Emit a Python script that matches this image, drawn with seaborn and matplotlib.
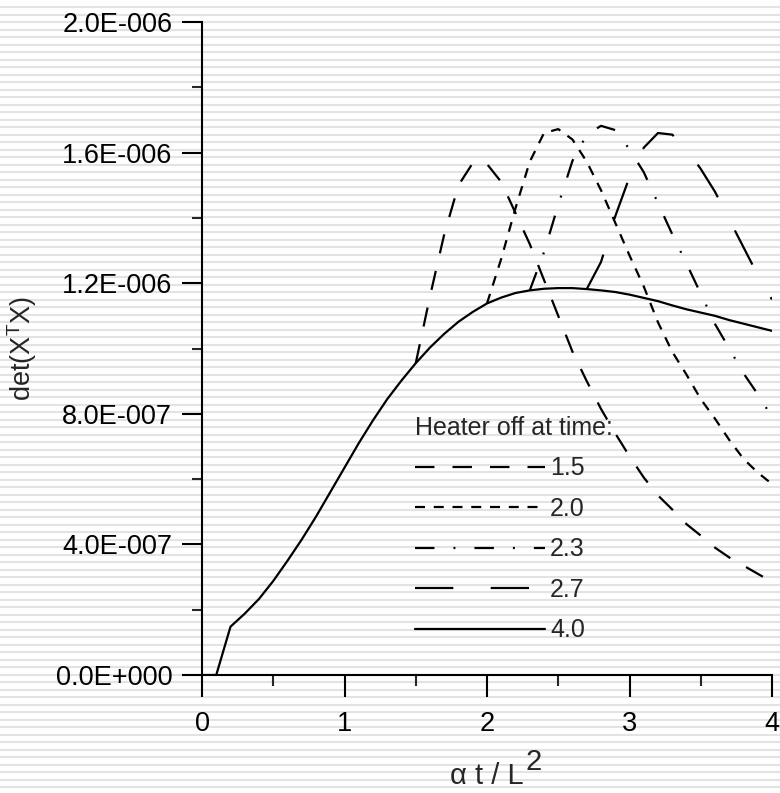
import numpy as np
import pandas as pd
import seaborn as sns
import matplotlib.pyplot as plt
from matplotlib.ticker import MultipleLocator, FuncFormatter

# time (alpha t / L^2) at which the heater is switched off
off_times = ['1.5', '2.0', '2.3', '2.7', '4.0']

# sampling grid, every 0.1
t_grid = np.round(np.arange(0, 4.01, 0.1), 1)

# det(X^T X), units of 1e-7
det_40 = [0.0, 0.0, 1.48, 1.88, 2.33, 2.88, 3.5, 4.15, 4.85, 5.6, 6.35,
          7.1, 7.8, 8.45, 9.02, 9.55, 10.03, 10.45, 10.82, 11.12, 11.38,
          11.56, 11.7, 11.78, 11.83, 11.85, 11.85, 11.82, 11.78, 11.73, 11.65,
          11.55, 11.45, 11.32, 11.2, 11.1, 11.0, 10.87, 10.76, 10.65, 10.54]
det_15 = [9.55, 11.6, 13.5, 15.0, 15.68, 15.65, 15.1, 14.15, 13.2, 12.1, 11.0,
          9.9, 9.0, 8.15, 7.4, 6.7, 6.05, 5.5, 5.07, 4.62, 4.27,
          3.9, 3.6, 3.35, 3.1, 2.85]
det_20 = [11.38, 12.75, 14.3, 15.72, 16.6, 16.72, 16.4, 15.72, 14.85, 13.85, 12.85,
          11.9, 10.8, 9.9, 9.2, 8.45, 7.85, 7.2, 6.62, 6.2, 5.85]
det_23 = [11.78, 12.95, 14.4, 15.75, 16.55, 16.82, 16.69, 16.1, 15.4, 14.45, 13.5,
          12.6, 11.68, 10.75, 10.0, 9.24, 8.6, 7.9]
det_27 = [11.82, 12.65, 14.05, 15.25, 16.15, 16.6, 16.55, 16.1, 15.5, 14.8, 13.95,
          13.1, 12.25, 11.5]

series = {'1.5': det_15, '2.0': det_20, '2.3': det_23, '2.7': det_27, '4.0': det_40}
frames = []
for key, vals in series.items():
    tt = t_grid[len(t_grid) - len(vals):]
    frames.append(pd.DataFrame({'t': tt, 'det': np.array(vals) * 1e-7, 'off': key}))
df = pd.concat(frames, ignore_index=True)

sns.set_style('white')
plt.rcParams['font.family'] = ['Liberation Sans', 'DejaVu Sans']
plt.rcParams['mathtext.fontset'] = 'custom'
plt.rcParams['mathtext.rm'] = 'Liberation Sans'
plt.rcParams['mathtext.it'] = 'Liberation Sans'
plt.rcParams['lines.scale_dashes'] = False

fig = plt.figure(figsize=(7.8, 7.93), dpi=100)
fig.patch.set_facecolor('white')

# striped background
bg = fig.add_axes([0, 0, 1, 1], zorder=-1)
bg.set_xlim(0, 1)
bg.set_ylim(793, 0)
bg.hlines(np.arange(7, 793, 7.5), 0, 1, color='#e3e3e3', lw=1.5)
bg.axis('off')

ax = fig.add_axes([202 / 780, 118 / 793, 570 / 780, 653 / 793])
ax.set_facecolor('none')

dash_map = {'1.5': (14, 13), '2.0': (7.2, 6.3), '2.3': (14, 13.7, 1.4, 13.7),
            '2.7': (27.6, 26.9), '4.0': ''}
sns.lineplot(data=df, x='t', y='det', style='off', style_order=off_times,
             dashes=dash_map, color='black', linewidth=1.6, estimator=None,
             ax=ax, legend='full')

ax.set_xlim(0, 4)
ax.set_ylim(0, 2e-6)
ax.xaxis.set_major_locator(MultipleLocator(1))
ax.xaxis.set_minor_locator(MultipleLocator(0.5))
ax.yaxis.set_major_locator(MultipleLocator(0.4e-6))
ax.yaxis.set_minor_locator(MultipleLocator(0.2e-6))


def sci_fmt(v, pos):
    if abs(v) < 1e-20:
        return '0.0E+000'
    e = int(np.floor(np.log10(abs(v))))
    m = v / 10 ** e
    return f"{m:.1f}E{'-' if e < 0 else '+'}{abs(e):03d}"


ax.yaxis.set_major_formatter(FuncFormatter(sci_fmt))

for s in ['top', 'right']:
    ax.spines[s].set_visible(False)
for s in ['left', 'bottom']:
    ax.spines[s].set_linewidth(1.5)
    ax.spines[s].set_color('black')

ax.tick_params(axis='y', which='major', direction='out', length=14.4, width=1.5,
               pad=7, labelsize=19.5, colors='black', left=True)
ax.tick_params(axis='y', which='minor', direction='out', length=7.2, width=1.5, left=True)
ax.tick_params(axis='x', which='major', direction='out', length=16, width=1.5,
               pad=10, labelsize=19.5, colors='black', bottom=True)
ax.tick_params(axis='x', which='minor', direction='out', length=8, width=1.5, bottom=True)

ax.set_ylabel(r'det(X$^{\mathregular{T}}$X)', fontsize=19.5, labelpad=12)
xl = ax.set_xlabel('\u03b1 t / L', fontsize=21, labelpad=18)
ax.annotate('2', xy=(1, 0.5), xycoords=xl, xytext=(1, 0), textcoords='offset points',
            fontsize=21, va='bottom', ha='left')

handles, labels = ax.get_legend_handles_labels()
leg = ax.legend(handles, labels, title='Heater off at time:', loc='upper left',
                bbox_to_anchor=(0.374, 0.397), frameon=False, fontsize=18,
                title_fontsize=18, handlelength=5.2, handletextpad=0.2,
                labelspacing=0.66, borderpad=0, borderaxespad=0, alignment='left')

fig.savefig('out.png', dpi=100, facecolor='white')
